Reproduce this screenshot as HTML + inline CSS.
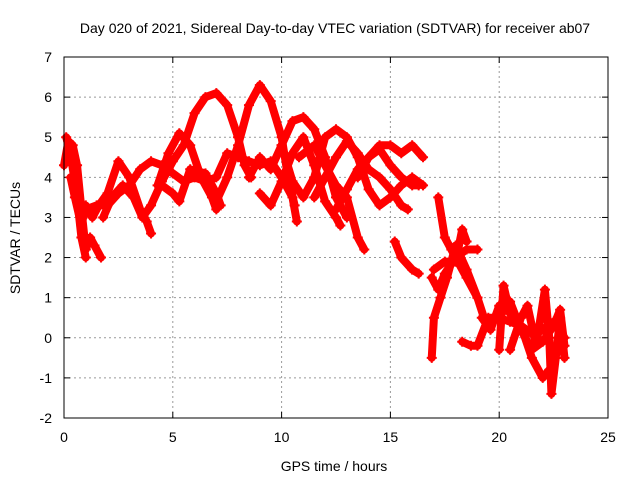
<!DOCTYPE html>
<html><head><meta charset="utf-8"><style>
body{margin:0;background:#fff;}
svg{display:block;font-family:"Liberation Sans",sans-serif;}
</style></head><body>
<svg id="chart" width="640" height="480">
<text x="335" y="33" font-size="14" text-anchor="middle">Day 020 of 2021, Sidereal Day-to-day VTEC variation (SDTVAR) for receiver ab07</text>
<text x="334" y="471" font-size="14" text-anchor="middle">GPS time / hours</text>
<text transform="translate(20,238) rotate(-90)" font-size="14" text-anchor="middle">SDTVAR / TECUs</text>
<g id="grid"></g>
<g id="ticks"></g>
<g id="marks"></g>
<rect x="64" y="57" width="544" height="361" fill="none" stroke="#000" stroke-width="1"/>
</svg>
<script>
const xTicks=[0,5,10,15,20,25];
const yTicks=[-2,-1,0,1,2,3,4,5,6,7];
const tracks=[
[[0,4.3],[0.2,4.9],[0.4,4.8],[0.6,4.3],[0.8,3.2],[1.0,2.2],[1.2,2.5],[1.4,2.3],[1.7,2.0]],
[[0.3,4.0],[0.5,3.5],[0.8,2.8],[1.0,3.3],[1.3,3.0],[1.6,3.3],[2.0,3.6],[2.5,4.4],[3.0,4.0],[3.5,3.2],[3.8,2.9],[4.0,2.6]],
[[0.1,5.0],[0.3,4.6],[0.6,3.5],[0.8,2.5],[1.0,2.0]],
[[0.6,3.5],[1.0,3.2],[1.5,3.3],[2.0,3.3],[2.5,3.6],[3.0,3.8],[3.5,4.2],[4.0,4.4],[4.5,4.3],[5.0,4.1],[5.5,3.9],[6.0,4.0],[6.5,3.9],[7.0,4.0],[7.5,4.6],[8.0,4.5],[8.5,4.4],[9.0,4.3],[9.5,4.4],[10,4.0],[10.5,3.5],[10.7,2.9]],
[[1.8,3.0],[2.2,3.5],[2.7,3.8],[3.2,3.5],[3.6,3.0],[4.0,3.3],[4.5,3.9],[5.0,4.4],[5.5,4.8],[6.0,5.6],[6.5,6.0],[7.0,6.1],[7.5,5.8],[8.0,5.0],[8.3,4.3],[8.6,4.0]],
[[4.3,3.8],[4.8,4.6],[5.3,5.1],[5.8,4.8],[6.3,4.0],[6.8,3.5],[7.0,3.2]],
[[4.5,3.8],[5.0,3.6],[5.3,3.4],[5.8,4.2],[6.5,4.1],[7.0,3.6],[7.2,3.3]],
[[7.0,3.4],[7.5,4.0],[8.0,4.8],[8.5,5.8],[9.0,6.3],[9.5,5.9],[10.0,5.0],[10.3,4.0],[10.6,3.3]],
[[8.5,4.0],[9.0,4.5],[9.5,4.2],[10.0,4.8],[10.5,5.4],[11.0,5.5],[11.5,5.2],[12.0,4.5],[12.5,3.5],[13.0,3.0]],
[[9.0,3.6],[9.5,3.3],[10.0,3.9],[10.5,4.6],[11.0,5.0],[11.5,4.3],[12.0,3.4],[12.5,3.0],[12.7,2.8]],
[[10.0,4.8],[10.5,3.9],[11.0,3.5],[11.5,4.0],[12.0,5.0],[12.5,5.2],[13.0,5.0],[13.5,4.5],[14.0,3.7],[14.5,3.3],[15,3.5],[15.5,3.8],[16,4.0],[16.5,3.8]],
[[10.8,4.5],[11.5,4.8],[12.0,4.3],[12.5,3.8],[13.0,3.5],[13.5,2.5],[13.8,2.2]],
[[11.5,3.5],[12.0,4.0],[12.5,4.5],[13.0,4.9],[13.5,4.6],[14.0,4.2],[14.5,4.0],[15.0,3.7],[15.5,3.3],[15.8,3.2]],
[[12.5,3.2],[13,3.7],[13.5,4.2],[14,4.5],[14.5,4.8],[15,4.8],[15.5,4.6],[16,4.8],[16.5,4.5]],
[[13.5,4.0],[14,4.5],[14.5,4.7],[15,4.3],[15.5,4.0],[16,3.8],[16.3,3.8]],
[[15.2,2.4],[15.5,2.0],[16,1.7],[16.3,1.6]],
[[16.9,1.5],[17.2,1.2],[17.5,1.6],[18.0,2.0],[18.5,2.2],[19.0,2.2]],
[[16.9,-0.5],[17.0,0.5],[17.3,1.0],[17.6,1.5],[18.0,2.3],[18.5,1.7],[19.0,1.0],[19.3,0.5]],
[[17.2,3.5],[17.5,2.5],[17.8,2.2],[18.2,1.8],[18.5,1.5],[19.0,1.0]],
[[17,1.7],[17.5,1.9],[18,1.9],[18.3,2.7],[18.5,2.4]],
[[18.3,-0.1],[18.7,-0.2],[19,-0.2],[19.5,0.5],[20,0.5],[20.5,0.4],[21,0.3],[21.5,0.1],[22,0.2],[22.5,0.4],[23,0]],
[[20.0,-0.3],[20.2,1.3],[20.5,0.6],[21,0.3],[21.5,-0.5],[22,-1.0],[22.3,-0.8]],
[[20.5,-0.3],[21,0.5],[21.3,0.8],[21.7,-0.2],[22.1,1.2],[22.3,0],[22.4,-1.4],[22.6,-0.5],[22.8,0.5],[23,-0.5]],
[[19.2,0.5],[19.6,0.2],[20,0.8],[20.5,0.9],[21,0.2],[21.5,-0.3],[22,-0.1],[22.5,0.3],[22.8,0.7],[23,-0.2]]
];
const NS='http://www.w3.org/2000/svg';
const X0=64,X1=608,Y0=418,Y1=57;
function sx(v){return X0+(v-0)/(25-0)*(X1-X0);}
function sy(v){return Y0-(v+2)/(7+2)*(Y0-Y1);}
const grid=document.getElementById('grid'),ticks=document.getElementById('ticks'),marks=document.getElementById('marks');
function mk(tag,at,p){const e=document.createElementNS(NS,tag);for(const k in at)e.setAttribute(k,at[k]);p.appendChild(e);return e;}
xTicks.forEach(t=>{
 const x=sx(t);
 if(t>0&&t<25){const g=mk('line',{x1:x,x2:x,y1:Y0,y2:Y1,stroke:'#999','stroke-dasharray':'2,3'},grid);
 
 }
 mk('line',{x1:x,x2:x,y1:Y0,y2:Y0-6,stroke:'#000'},ticks);
 mk('line',{x1:x,x2:x,y1:Y1,y2:Y1+6,stroke:'#000'},ticks);
 const l=mk('text',{x:x,y:Y0+24,'font-size':14,'text-anchor':'middle'},ticks);l.textContent=t;
 
 
});
yTicks.forEach(t=>{
 const y=sy(t);
 if(t>-2&&t<7){const g=mk('line',{x1:X0,x2:X1,y1:y,y2:y,stroke:'#999','stroke-dasharray':'2,3'},grid);
 
 }
 mk('line',{x1:X0,x2:X0+6,y1:y,y2:y,stroke:'#000'},ticks);
 mk('line',{x1:X1,x2:X1-6,y1:y,y2:y,stroke:'#000'},ticks);
 const l=mk('text',{x:X0-12,y:y+5,'font-size':14,'text-anchor':'end'},ticks);l.textContent=t;
 
 
});
tracks.forEach(tr=>{
 const pl=mk('polyline',{points:tr.map(p=>sx(p[0])+','+sy(p[1])).join(' '),fill:'none',stroke:'#f00','stroke-width':8,'stroke-linejoin':'round','stroke-linecap':'round'},marks);
 
 
 tr.forEach(p=>{
  const x=sx(p[0]),y=sy(p[1]);
  const m=mk('path',{d:`M${x-5},${y}H${x+5}M${x},${y-5}V${y+5}`,stroke:'#f00','stroke-width':2},marks);
  
  
 });
});
</script>
</body></html>
